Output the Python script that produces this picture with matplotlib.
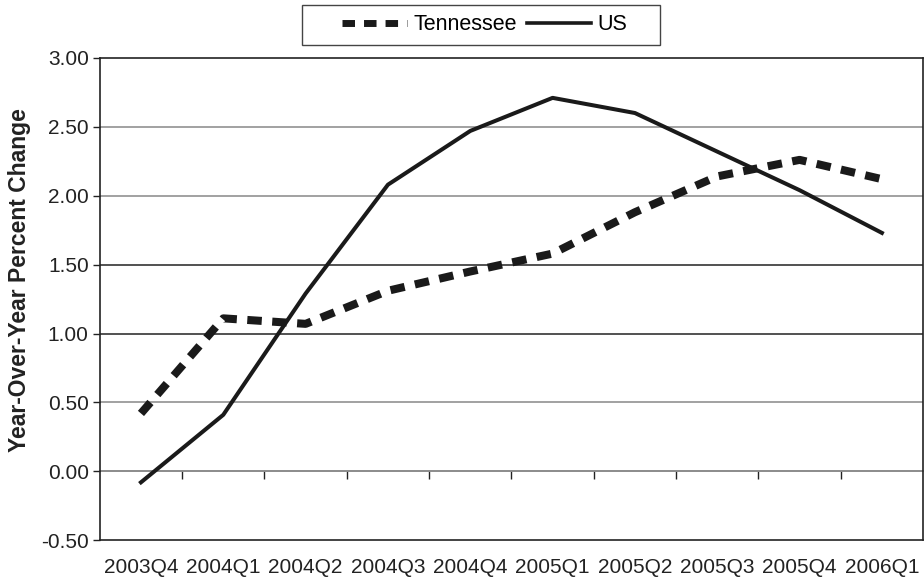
import numpy as np
import matplotlib
matplotlib.use('Agg')
import matplotlib.pyplot as plt
from matplotlib.patches import Rectangle

plt.rcParams['font.family'] = ['Liberation Sans', 'DejaVu Sans']

quarters = ['2003Q4', '2004Q1', '2004Q2', '2004Q3', '2004Q4',
            '2005Q1', '2005Q2', '2005Q3', '2005Q4', '2006Q1']
tennessee = [0.42, 1.11, 1.07, 1.31, 1.45, 1.58, 1.88, 2.14, 2.26, 2.12]
us = [-0.08, 0.41, 1.29, 2.08, 2.47, 2.71, 2.60, 2.32, 2.04, 1.73]
yticks = [-0.5, 0.0, 0.5, 1.0, 1.5, 2.0, 2.5, 3.0]

W, H = 924, 579
fig = plt.figure(figsize=(W / 100, H / 100), dpi=100)
ax = fig.add_axes([0.108, 0.067, 0.891, 0.833])

x = np.arange(len(quarters))
ax.plot(x, tennessee, color='#1a1a1a', lw=5.8, dashes=(1.8, 1.3),
        solid_capstyle='butt', dash_capstyle='butt', label='Tennessee', zorder=3)
ax.plot(x, us, color='#1a1a1a', lw=2.9, label='US', zorder=3)

ax.set_xlim(-0.5, len(quarters) - 0.5)
ax.set_ylim(-0.5, 3.0)
ax.set_yticks(yticks)
ax.set_yticklabels([f'{v:.2f}' for v in yticks])
ax.set_xticks(x)
ax.set_xticklabels(quarters)
ax.tick_params(axis='x', length=0, pad=13, labelsize=15, colors='#222222')
ax.tick_params(axis='y', length=5, width=1, labelsize=15, colors='#222222', pad=3)

# horizontal gridlines
for v in yticks[1:-1]:
    c = '#222222' if v in (1.0, 1.5) else '#888888'
    ax.axhline(v, color=c, lw=1.1, zorder=1)

for s in ax.spines.values():
    s.set_color('#222222')
    s.set_linewidth(1.2)

# category tick marks sit on the zero line
zero_axis = ax.secondary_xaxis(0.5 / 3.5)
zero_axis.set_xticks(x[:-1] + 0.5)
zero_axis.set_xticklabels([])
zero_axis.tick_params(axis='x', direction='out', length=6, width=1, colors='#222222')
zero_axis.spines['bottom'].set_color('#888888')
zero_axis.spines['bottom'].set_linewidth(1.1)

ax.set_ylabel('Year-Over-Year Percent Change', fontsize=16.5, fontweight='bold',
              color='#222222')
ax.yaxis.set_label_coords(-0.083, 0.54)

# legend box with wide side margins
fig.patches.append(Rectangle((302 / W, 1 - 45 / H), 358 / W, 40 / H,
                             transform=fig.transFigure, facecolor='white',
                             edgecolor='#444444', lw=1.0))
leg = fig.legend(*ax.get_legend_handles_labels(), loc='center',
                 bbox_to_anchor=(485 / W, 1 - 25 / H), ncol=2, frameon=False,
                 fontsize=15.5, handlelength=3.0, handletextpad=0.3,
                 columnspacing=0.45)
leg.get_lines()[0].set_linewidth(5)
leg.get_lines()[1].set_linewidth(2.6)

fig.savefig('out.png', dpi=100)
